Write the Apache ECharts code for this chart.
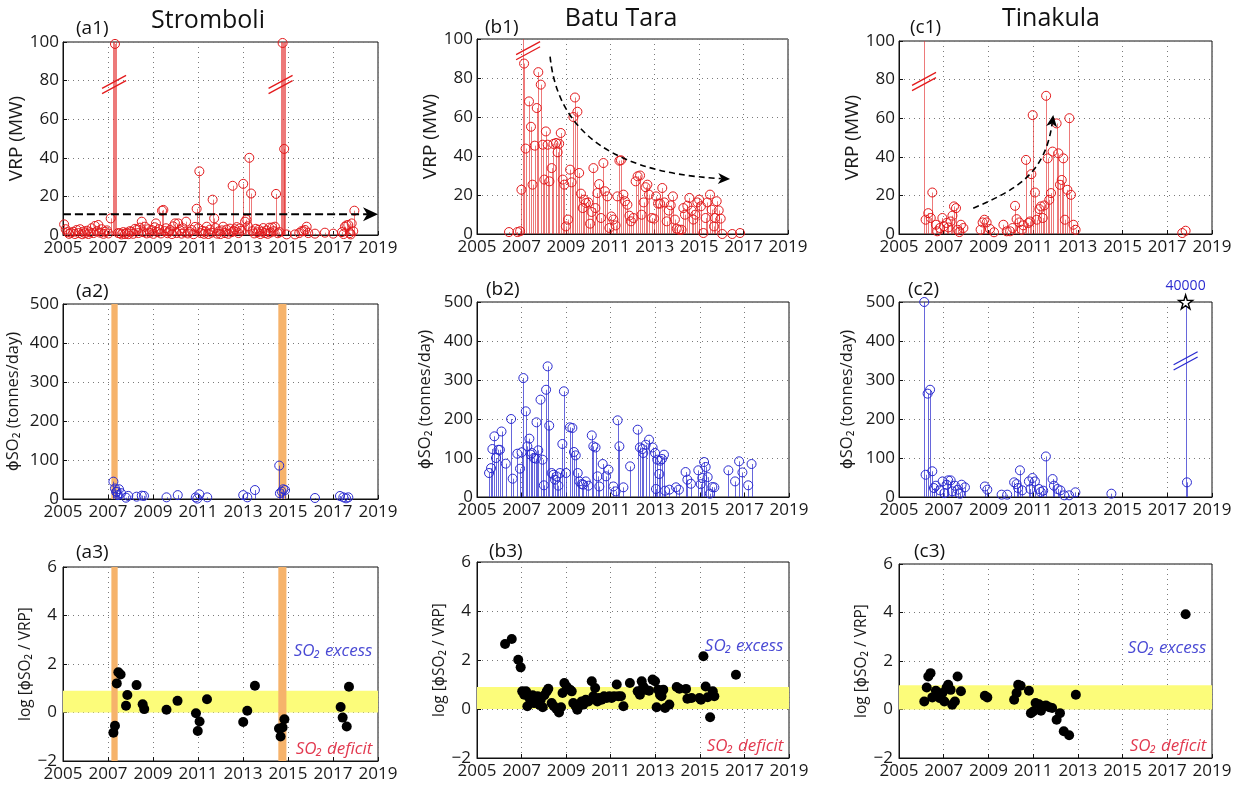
<!DOCTYPE html>
<html><head><meta charset="utf-8">
<script src="https://cdn.jsdelivr.net/npm/echarts@6/dist/echarts.min.js"></script>
<style>html,body{margin:0;padding:0;background:#fff}#c{width:1239px;height:786px}</style>
</head><body><div id="c"></div>
<script>
// ---------- axis ticks ----------
const xTickMin = 2005, xTickMax = 2019, xTickStep = 2;
const vrpTicks = [0, 100, 20];
const so2Ticks = [0, 500, 100];
const ratioTicks = [-2, 6, 2];

// ---------- (a) Stromboli ----------
const vrpStromboli = [[2005.05,5.5],[2005.12,3.0],[2005.2,1.5],[2005.27,0.6],[2005.35,1.2],[2005.46,1.7],[2005.53,0.5],[2005.61,2.6],[2005.7,1.0],[2005.76,3.0],[2005.85,0.4],[2005.92,1.8],[2005.98,0.9],[2006.06,2.2],[2006.13,0.5],[2006.2,1.4],[2006.27,3.5],[2006.35,1.0],[2006.42,4.7],[2006.5,2.0],[2006.57,5.2],[2006.65,1.2],[2006.72,3.0],[2006.8,0.6],[2006.87,1.7],[2006.95,2.4],[2007.02,0.8],[2007.12,8.6],[2007.31,99],[2007.45,1.0],[2007.53,0.9],[2007.6,0.3],[2007.68,1.5],[2007.76,0.5],[2007.83,1.2],[2007.9,0.4],[2007.97,2.0],[2008.05,1.7],[2008.12,0.6],[2008.2,3.2],[2008.27,2.6],[2008.35,1.0],[2008.42,3.8],[2008.5,6.9],[2008.57,1.5],[2008.64,4.3],[2008.72,0.8],[2008.79,3.0],[2008.86,1.2],[2008.94,2.6],[2009.02,0.6],[2009.08,4.0],[2009.13,6.0],[2009.2,1.5],[2009.27,3.0],[2009.35,0.8],[2009.4,12.6],[2009.46,13.0],[2009.52,2.0],[2009.58,3.5],[2009.65,0.9],[2009.71,1.8],[2009.76,2.6],[2009.84,0.5],[2009.9,4.5],[2009.98,6.0],[2010.05,1.0],[2010.12,6.0],[2010.2,2.5],[2010.27,0.7],[2010.33,3.5],[2010.4,1.5],[2010.47,6.9],[2010.55,0.8],[2010.63,1.6],[2010.72,2.6],[2010.8,0.4],[2010.87,4.2],[2010.94,13.6],[2011.01,3.5],[2011.06,33],[2011.12,1.0],[2011.2,2.2],[2011.27,0.6],[2011.33,1.8],[2011.39,4.3],[2011.46,0.5],[2011.53,2.8],[2011.6,1.2],[2011.65,18.3],[2011.72,8.6],[2011.78,3.6],[2011.85,0.7],[2011.92,1.9],[2012.0,0.5],[2012.06,2.4],[2012.12,4.3],[2012.2,1.0],[2012.27,2.8],[2012.35,0.6],[2012.42,3.3],[2012.5,1.5],[2012.54,25.5],[2012.6,2.0],[2012.64,3.0],[2012.72,4.1],[2012.8,1.0],[2012.86,3.4],[2012.93,2.2],[2013.01,26.5],[2013.09,6.9],[2013.15,8.0],[2013.22,4.5],[2013.28,40],[2013.36,21.5],[2013.42,2.0],[2013.5,0.8],[2013.57,3.2],[2013.64,1.4],[2013.7,2.7],[2013.77,0.5],[2013.84,1.8],[2013.9,3.6],[2013.97,1.0],[2014.04,2.3],[2014.1,0.6],[2014.17,3.8],[2014.23,1.3],[2014.3,3.9],[2014.36,2.0],[2014.42,4.3],[2014.47,21.3],[2014.55,0.9],[2014.62,1.5],[2014.76,99.5],[2014.83,44.6],[2014.94,0.3],[2015.31,0.3],[2015.5,1.0],[2015.6,2.0],[2015.68,2.0],[2015.76,2.6],[2015.83,4.3],[2015.9,1.0],[2016.2,0.7],[2016.64,1.2],[2017.01,0.7],[2017.4,1.5],[2017.47,0.5],[2017.53,4.3],[2017.6,5.0],[2017.68,5.2],[2017.75,1.0],[2017.79,0.3],[2017.83,6.0],[2017.9,2.0],[2017.95,12.6]];
const vrpStromboliOffScale = [2007.22, 2007.27, 2007.36, 2014.68, 2014.72, 2014.8, 2014.87];
const so2Stromboli = [[2007.24,44.5],[2007.31,27],[2007.36,18],[2007.39,19],[2007.44,10],[2007.49,25],[2007.58,15],[2007.8,3.4],[2007.9,8],[2008.27,6],[2008.5,8.6],[2008.6,8],[2009.6,4.3],[2010.1,10],[2010.9,4.3],[2010.97,1],[2011.06,12],[2011.41,4.3],[2013.01,10],[2013.19,4.3],[2013.53,23],[2014.61,85.6],[2014.64,14.6],[2014.72,19],[2014.79,25],[2014.87,23],[2016.2,2.6],[2017.31,7.7],[2017.46,4.3],[2017.58,1.7],[2017.68,4.3]];
const ratioStromboli = [[2007.24,-0.83],[2007.31,-0.55],[2007.39,1.2],[2007.46,1.66],[2007.56,1.57],[2007.86,0.72],[2007.8,0.28],[2008.27,1.13],[2008.54,0.34],[2008.61,0.14],[2009.6,0.11],[2010.09,0.48],[2010.91,-0.03],[2010.99,-0.76],[2011.07,-0.37],[2011.4,0.55],[2013.01,-0.39],[2013.19,0.07],[2013.53,1.1],[2014.6,-0.66],[2014.67,-0.99],[2014.76,-0.62],[2014.84,-0.28],[2017.34,0.23],[2017.43,-0.21],[2017.61,-0.58],[2017.71,1.06]];
const stromboliEvents = [[2007.15,2007.43],[2014.57,2014.93]];

// ---------- (b) Batu Tara ----------
const vrpBatuTara = [[2006.44,1],[2006.82,1],[2006.94,1.4],[2007.0,22.7],[2007.12,87.4],[2007.19,43.8],[2007.34,68],[2007.43,55],[2007.5,25.3],[2007.6,45.3],[2007.69,64.6],[2007.76,83],[2007.87,76.6],[2007.96,45.8],[2008.03,27.9],[2008.1,52.6],[2008.18,45.8],[2008.26,27],[2008.36,33.8],[2008.44,46.2],[2008.56,46.7],[2008.63,41.9],[2008.7,46.3],[2008.77,51.8],[2008.86,27.9],[2008.93,25.3],[2009.0,3.9],[2009.1,7.4],[2009.19,33],[2009.26,26.5],[2009.34,60],[2009.41,70],[2009.52,62.7],[2009.6,31.3],[2009.68,20.7],[2009.76,13.3],[2009.82,17.6],[2009.9,15.9],[2010.01,16.2],[2010.09,5.3],[2010.16,11.3],[2010.24,33.8],[2010.33,13.3],[2010.42,21],[2010.5,25.6],[2010.58,8.2],[2010.69,36.4],[2010.76,21.9],[2010.87,19.3],[2010.96,3.1],[2011.05,9],[2011.14,7.4],[2011.24,4.4],[2011.32,19.3],[2011.41,37.6],[2011.48,37.8],[2011.59,20.2],[2011.66,16.8],[2011.77,15],[2011.86,9.4],[2011.93,6.5],[2012.04,8.2],[2012.14,27],[2012.23,29.6],[2012.34,30],[2012.41,9.9],[2012.5,16.2],[2012.59,24],[2012.67,25.3],[2012.74,20.2],[2012.86,8.2],[2012.97,7.9],[2013.06,19.3],[2013.15,15.6],[2013.24,15.6],[2013.34,23.6],[2013.43,16.2],[2013.54,6.5],[2013.63,12],[2013.72,14.7],[2013.82,19.3],[2013.91,7.4],[2013.99,2.7],[2014.1,2.2],[2014.21,2.2],[2014.29,13.3],[2014.36,9.9],[2014.47,14.5],[2014.56,18.5],[2014.66,12],[2014.74,7.4],[2014.83,9.9],[2014.92,16.2],[2015.0,17.6],[2015.08,14.2],[2015.19,0.5],[2015.29,8.2],[2015.37,16.2],[2015.49,20.2],[2015.56,12.5],[2015.67,3.9],[2015.72,8.2],[2015.79,16.8],[2015.88,12.1],[2015.97,7.9],[2016.04,0],[2016.49,0],[2016.84,0.5]];
const vrpBatuTaraOffScale = [2007.08];
const so2BatuTara = [[2005.54,61.5],[2005.63,74],[2005.69,123],[2005.78,155.6],[2005.85,100],[2005.96,121],[2006.03,121],[2006.1,168],[2006.29,85.5],[2006.53,200],[2006.6,47],[2006.81,111],[2006.93,72.6],[2007.0,114.5],[2007.08,305],[2007.19,219.7],[2007.26,130],[2007.35,149.6],[2007.41,108.5],[2007.46,112.8],[2007.55,100],[2007.64,98.3],[2007.67,191.5],[2007.75,119.7],[2007.85,249.6],[2007.94,95.7],[2008.0,30],[2008.1,275],[2008.17,335],[2008.24,183],[2008.35,61.5],[2008.43,57],[2008.5,44.4],[2008.57,53],[2008.65,29],[2008.72,61.5],[2008.83,136],[2008.9,271],[2008.99,61.5],[2009.17,178.6],[2009.28,177],[2009.35,115.4],[2009.43,106.8],[2009.52,61.5],[2009.59,40],[2009.7,33],[2009.77,31.6],[2009.88,40],[2010.0,29],[2010.15,158],[2010.22,130],[2010.32,127],[2010.41,53],[2010.49,27],[2010.64,84.6],[2010.79,53],[2010.9,70],[2011.12,27],[2011.22,14.5],[2011.31,196.6],[2011.39,130],[2011.57,24.8],[2011.87,78.6],[2012.21,172.6],[2012.31,127],[2012.42,123],[2012.46,112.8],[2012.57,134],[2012.72,147],[2012.88,127],[2012.99,112.8],[2013.03,20.5],[2013.09,95.7],[2013.18,59],[2013.22,93],[2013.3,97.4],[2013.39,108.5],[2013.44,16.2],[2013.63,18.8],[2013.93,24.8],[2014.06,18.8],[2014.36,64],[2014.44,44.4],[2014.6,34],[2014.93,68.4],[2015.04,33],[2015.11,48.7],[2015.19,89.7],[2015.26,77],[2015.35,51],[2015.45,8.5],[2015.56,25.6],[2015.65,24.8],[2016.28,68.4],[2016.58,40],[2016.76,91.5],[2016.91,63],[2017.17,30],[2017.32,84.6]];
const ratioBatuTara = [[2006.26,2.65],[2006.56,2.86],[2006.85,2.01],[2006.96,1.7],[2007.03,0.72],[2007.12,0.58],[2007.2,0.72],[2007.26,0.11],[2007.35,0.45],[2007.42,0.31],[2007.5,0.56],[2007.56,0.24],[2007.65,0.38],[2007.72,0.52],[2007.8,0.18],[2007.86,0.38],[2007.95,0.07],[2008.02,0.56],[2008.13,0.72],[2008.2,0.83],[2008.35,0.24],[2008.45,0.11],[2008.57,0],[2008.68,-0.14],[2008.77,0.07],[2008.84,0.65],[2008.92,1.06],[2009.02,0.92],[2009.17,0.79],[2009.25,0.72],[2009.32,0.24],[2009.43,0.11],[2009.5,-0.03],[2009.59,0.18],[2009.7,0.31],[2009.77,0.18],[2009.88,0.38],[2010.0,0.31],[2010.15,1.13],[2010.22,0.52],[2010.3,0.86],[2010.4,0.31],[2010.47,0.45],[2010.59,0.38],[2010.7,0.52],[2010.82,0.45],[2010.94,0.52],[2011.04,0.45],[2011.15,0.52],[2011.27,1.0],[2011.34,0.52],[2011.46,0.52],[2011.57,0.11],[2011.86,1.06],[2012.21,0.72],[2012.31,0.58],[2012.39,1.13],[2012.46,0.92],[2012.57,0.79],[2012.72,0.75],[2012.88,1.2],[2012.99,1.13],[2013.06,0.07],[2013.13,0.79],[2013.21,0.58],[2013.28,0.52],[2013.36,0.79],[2013.44,0.04],[2013.63,0.18],[2013.96,0.9],[2014.08,0.83],[2014.38,0.82],[2014.44,0.42],[2014.63,0.45],[2014.98,0.45],[2015.05,0.38],[2015.16,2.15],[2015.26,0.92],[2015.35,0.48],[2015.46,-0.34],[2015.58,0.72],[2015.65,0.52],[2016.62,1.4]];

// ---------- (c) Tinakula ----------
const vrpTinakula = [[2006.19,7.4],[2006.31,10.8],[2006.42,8.3],[2006.49,21.5],[2006.65,4.8],[2006.71,1.4],[2006.83,3.1],[2006.94,8.3],[2007.01,4],[2007.13,5.7],[2007.21,3.4],[2007.31,6.5],[2007.39,9.5],[2007.46,14.3],[2007.55,13.4],[2007.62,2.2],[2007.7,1],[2007.77,4.8],[2007.88,3.1],[2008.65,2.2],[2008.74,6],[2008.82,7.4],[2008.92,6],[2009.07,2.6],[2009.25,0.9],[2009.67,4.8],[2009.82,1.4],[2009.97,1.4],[2010.08,3.1],[2010.19,14.6],[2010.26,7.7],[2010.38,6],[2010.49,2.2],[2010.56,4.5],[2010.68,38.4],[2010.79,5.7],[2010.86,6.5],[2010.92,31],[2010.98,61.6],[2011.08,21.5],[2011.16,7.4],[2011.28,12.9],[2011.35,14.3],[2011.43,8.3],[2011.5,14.8],[2011.58,71.6],[2011.65,39.2],[2011.72,17.7],[2011.8,21.2],[2011.87,42.7],[2012.05,57.3],[2012.13,41.8],[2012.2,25.5],[2012.28,28],[2012.35,39.2],[2012.42,7.4],[2012.53,22.9],[2012.62,60],[2012.69,20.3],[2012.8,4.8],[2012.9,2.2],[2017.67,0.5],[2017.82,1.7]];
const vrpTinakulaOffScale = [2006.12];
const so2Tinakula = [[2006.13,500],[2006.19,57],[2006.28,265],[2006.39,275],[2006.49,66],[2006.56,23],[2006.65,29],[2006.83,17],[2006.95,40],[2007.03,10],[2007.13,31.6],[2007.2,42.7],[2007.31,42.7],[2007.38,14.5],[2007.5,29],[2007.62,18.8],[2007.73,8.5],[2007.8,31.6],[2007.95,24.8],[2008.84,27],[2008.95,18.8],[2009.59,6],[2009.84,6],[2010.15,37.6],[2010.26,33],[2010.33,23],[2010.41,68.4],[2010.51,17],[2010.81,40],[2010.88,20.5],[2010.97,48.7],[2011.08,40],[2011.26,20.5],[2011.34,12.8],[2011.45,16.2],[2011.57,104],[2011.87,46],[2011.93,29],[2012.09,20.5],[2012.22,17],[2012.39,4.3],[2012.61,4.3],[2012.89,12],[2014.5,8.5],[2017.88,37.6]];
const so2TinakulaOffScale = [2017.82];
const so2TinakulaPeak = [[2017.82, 500]];
const so2TinakulaPeakLabel = '40000';
const ratioTinakula = [[2006.13,0.33],[2006.24,0.91],[2006.31,1.36],[2006.41,1.5],[2006.49,0.5],[2006.65,0.77],[2006.83,0.47],[2006.94,0.68],[2007.03,0.33],[2007.13,0.91],[2007.2,1.02],[2007.31,0.81],[2007.38,0.2],[2007.5,0.33],[2007.62,1.36],[2007.77,0.75],[2008.84,0.57],[2008.95,0.5],[2010.15,0.4],[2010.26,0.68],[2010.33,1.02],[2010.44,0.98],[2010.81,0.77],[2010.9,-0.15],[2011.0,-0.08],[2011.11,0.27],[2011.26,0.22],[2011.35,-0.05],[2011.45,0.13],[2011.57,0.17],[2011.72,0.09],[2011.85,0.06],[2012.05,-0.42],[2012.2,-0.15],[2012.37,-0.9],[2012.61,-1.06],[2012.91,0.61],[2017.82,3.93]];

// reference ranges (yellow band)
const bandStromboli = [0, 0.9];
const bandBatuTara = [0, 0.9];
const bandTinakula = [0, 1.0];

// trend arrows [x0,y0, cx1,cy1, cx2,cy2, x3,y3]
const trendStromboli = [2005.0,10.7, 2005.0,10.7, 2019.0,10.7, 2019.0,10.7];
const trendBatuTara = [2008.29,91, 2008.56,61, 2010.18,31.8, 2016.39,28.2];
const trendTinakula = [2008.32,13.3, 2010.19,22.8, 2011.53,30.6, 2011.9,61.7];

// axis break marks
const breaksA1 = [[2007.27,78],[2014.67,78]];
const breaksB1 = [[2007.3,94]];
const breaksC1 = [[2006.12,79]];
const breaksC2 = [[2017.82,349]];

// ---------- styling ----------
const FONT = '"Open Sans", "DejaVu Sans", sans-serif';
const RED = '#e31a1c', RED_STEM = 'rgba(226,40,40,0.62)';
const BLUE = '#2b2bd0', BLUE_STEM = 'rgba(45,45,205,0.72)';
const ORANGE = '#f6b36b', YELLOW = '#fcfc7a';
const EXCESS = '#4a4ad4', DEFICIT = '#e23a50';

const panels = [
  {box:[63,42,315,193], t:vrpTicks, name:'VRP (MW)', nfs:19, gap:34, kind:'stem', col:RED, stem:RED_STEM, data:vrpStromboli, off:vrpStromboliOffScale, breaks:breaksA1, trend:trendStromboli, tstyle:{lw:2, dash:[8,4], len:15, w:7}},
  {box:[477,39,311,195], t:vrpTicks, name:'VRP (MW)', nfs:19, gap:35, kind:'stem', col:RED, stem:RED_STEM, data:vrpBatuTara, off:vrpBatuTaraOffScale, breaks:breaksB1, trend:trendBatuTara, tstyle:{lw:1.6, dash:[6,4], len:12, w:5.5}},
  {box:[899,41,313,193], t:vrpTicks, name:'VRP (MW)', nfs:19, gap:37, kind:'stem', col:RED, stem:RED_STEM, data:vrpTinakula, off:vrpTinakulaOffScale, breaks:breaksC1, trend:trendTinakula, tstyle:{lw:1.6, dash:[6,4], len:12, w:5.5}},
  {box:[63,304,315,195], t:so2Ticks, name:'ϕSO₂ (tonnes/day)', nfs:16.5, gap:41, kind:'stem', col:BLUE, stem:BLUE_STEM, data:so2Stromboli, off:[], vbands:stromboliEvents},
  {box:[477,302,312,195], t:so2Ticks, name:'ϕSO₂ (tonnes/day)', nfs:16.5, gap:43, kind:'stem', col:BLUE, stem:BLUE_STEM, data:so2BatuTara, off:[]},
  {box:[899,302,313,195], t:so2Ticks, name:'ϕSO₂ (tonnes/day)', nfs:16.5, gap:43, kind:'stem', col:BLUE, stem:BLUE_STEM, data:so2Tinakula, off:so2TinakulaOffScale, breaks:breaksC2, peak:so2TinakulaPeak},
  {box:[63,567,315,194], t:ratioTicks, name:'log [ϕSO₂ / VRP]', nfs:15.5, gap:19, kind:'dot', data:ratioStromboli, vbands:stromboliEvents, hband:bandStromboli},
  {box:[477,562,312,196], t:ratioTicks, name:'log [ϕSO₂ / VRP]', nfs:15.5, gap:27, kind:'dot', data:ratioBatuTara, hband:bandBatuTara},
  {box:[899,564,313,194], t:ratioTicks, name:'log [ϕSO₂ / VRP]', nfs:15.5, gap:24, kind:'dot', data:ratioTinakula, hband:bandTinakula}
];

const fmtNum = v => (v < 0 ? '\u2212' + Math.abs(v) : String(v));
const grids = [], xAxes = [], yAxes = [], series = [];

panels.forEach((p, gi) => {
  grids.push({left:p.box[0], top:p.box[1], width:p.box[2], height:p.box[3], show:true, borderColor:'#111', borderWidth:1, backgroundColor:'transparent', containLabel:false, outerBoundsMode:'none'});
  const common = {
    gridIndex:gi, type:'value',
    axisLine:{show:true, onZero:false, lineStyle:{color:'#111', width:1}},
    axisTick:{show:true, inside:true, length:4, lineStyle:{color:'#111'}},
    splitLine:{show:true, lineStyle:{color:'#7a7a7a', width:1, type:[1,4]}},
    axisLabel:{color:'#1a1a1a', fontSize:17, fontFamily:FONT, formatter:fmtNum, showMinLabel:true, showMaxLabel:true}
  };
  xAxes.push(Object.assign({}, common, {min:xTickMin, max:xTickMax, interval:xTickStep, axisLabel:Object.assign({}, common.axisLabel, {margin:5})}));
  yAxes.push(Object.assign({}, common, {min:p.t[0], max:p.t[1], interval:p.t[2], name:p.name, nameLocation:'middle', nameGap:p.gap,
    nameTextStyle:{fontSize:p.nfs, fontFamily:FONT, color:'#1a1a1a'}, axisLabel:Object.assign({}, common.axisLabel, {margin:p.kind==='dot'?6:4})}));
  const yLo = p.t[0], yHi = p.t[1];

  // bands
  const bandRects = [];
  if (p.hband) bandRects.push({r:[xTickMin, xTickMax, p.hband[0], p.hband[1]], c:YELLOW});
  if (p.vbands) p.vbands.forEach(b => bandRects.push({r:[b[0], b[1], yLo, yHi], c:ORANGE}));
  if (bandRects.length) {
    series.push({type:'custom', xAxisIndex:gi, yAxisIndex:gi, z:1, silent:true, clip:true,
      data:bandRects.map(b => b.r), encode:{x:[0,1], y:[2,3]},
      renderItem:(params, api) => {
        const a = api.coord([api.value(0), api.value(3)]);
        const b = api.coord([api.value(1), api.value(2)]);
        return {type:'rect', shape:{x:a[0], y:a[1], width:b[0]-a[0], height:b[1]-a[1]}, style:{fill:bandRects[params.dataIndex].c}};
      }});
  }

  if (p.kind === 'stem') {
    const pts = p.data.map(d => [d[0], d[1]]).concat(p.off.map(x => [x, yHi]));
    const stemColor = p.stem;
    series.push({type:'custom', xAxisIndex:gi, yAxisIndex:gi, z:2, silent:true, clip:true, data:pts, encode:{x:0, y:1},
      renderItem:(params, api) => {
        const x = api.value(0), v = api.value(1);
        const a = api.coord([x, 0]), b = api.coord([x, v]);
        const px = Math.round(a[0]) + 0.5;
        return {type:'line', shape:{x1:px, y1:a[1], x2:px, y2:b[1]}, style:{stroke:stemColor, lineWidth:1, fill:'none'}};
      }});
    series.push({type:'scatter', xAxisIndex:gi, yAxisIndex:gi, z:3, silent:true, data:p.data, symbol:'circle', symbolSize:9,
      itemStyle:{color:'rgba(255,255,255,0)', borderColor:p.col, borderWidth:1, opacity:1}});
  } else {
    series.push({type:'scatter', xAxisIndex:gi, yAxisIndex:gi, z:3, silent:true, data:p.data, symbol:'circle', symbolSize:10,
      itemStyle:{color:'#000', opacity:1}});
    const labels = [{pos:[2018.75, 2.55], text:'SO\u2082 excess', c:EXCESS}, {pos:[2018.75, -1.5], text:'SO\u2082 deficit', c:DEFICIT}];
    series.push({type:'custom', xAxisIndex:gi, yAxisIndex:gi, z:6, silent:true, clip:false, data:labels.map(l => l.pos), encode:{x:0, y:1},
      renderItem:(params, api) => {
        const q = api.coord([api.value(0), api.value(1)]);
        const l = labels[params.dataIndex];
        return {type:'text', x:q[0], y:q[1], style:{text:l.text, fill:l.c, font:'italic 17px ' + FONT, align:'right', verticalAlign:'middle'}};
      }});
  }

  if (p.breaks) {
    const bc = p.col;
    series.push({type:'custom', xAxisIndex:gi, yAxisIndex:gi, z:5, silent:true, clip:false, data:p.breaks, encode:{x:0, y:1},
      renderItem:(params, api) => {
        const q = api.coord([api.value(0), api.value(1)]);
        const dx = 12, dy = 6.5, g = 2.6;
        const seg = s => ({type:'line', shape:{x1:q[0]-dx, y1:q[1]+dy+s, x2:q[0]+dx, y2:q[1]-dy+s}, style:{stroke:bc, lineWidth:1.3, fill:'none'}});
        return {type:'group', children:[seg(-g), seg(g)]};
      }});
  }

  if (p.peak) {
    series.push({type:'scatter', xAxisIndex:gi, yAxisIndex:gi, z:6, silent:true, data:p.peak,
      symbol:'path://M12,0 L14.8,8.6 L24,8.6 L16.6,14 L19.4,22.6 L12,17.3 L4.6,22.6 L7.4,14 L0,8.6 L9.2,8.6 Z', symbolSize:14,
      itemStyle:{color:'#fff', borderColor:'#000', borderWidth:1.4, opacity:1},
      label:{show:true, position:'top', distance:1, formatter:so2TinakulaPeakLabel, color:BLUE, fontSize:14, fontFamily:FONT}});
  }

  if (p.trend) {
    const ts = p.tstyle;
    series.push({type:'custom', xAxisIndex:gi, yAxisIndex:gi, z:7, silent:true, clip:false, data:[p.trend], encode:{x:[0,2,4,6], y:[1,3,5,7]},
      renderItem:(params, api) => {
        const P = [0,1,2,3].map(i => api.coord([api.value(2*i), api.value(2*i+1)]));
        let dx = P[3][0]-P[2][0], dy = P[3][1]-P[2][1];
        if (Math.hypot(dx, dy) < 1e-6) { dx = P[3][0]-P[0][0]; dy = P[3][1]-P[0][1]; }
        const L = Math.hypot(dx, dy); dx /= L; dy /= L;
        const nx = -dy, ny = dx;
        const bx = P[3][0]-dx*ts.len, by = P[3][1]-dy*ts.len;
        const mx = P[3][0]-dx*ts.len*0.72, my = P[3][1]-dy*ts.len*0.72;
        const straight = P[1][0]===P[0][0] && P[1][1]===P[0][1];
        const c1 = straight ? P[0] : P[1], c2 = straight ? [mx,my] : P[2];
        return {type:'group', children:[
          {type:'bezierCurve', shape:{x1:P[0][0], y1:P[0][1], cpx1:c1[0], cpy1:c1[1], cpx2:c2[0], cpy2:c2[1], x2:mx, y2:my},
            style:{stroke:'#000', lineWidth:ts.lw, lineDash:ts.dash, fill:'none'}},
          {type:'polygon', shape:{points:[[P[3][0],P[3][1]], [bx+nx*ts.w, by+ny*ts.w], [mx,my], [bx-nx*ts.w, by-ny*ts.w]]}, style:{fill:'#000', stroke:'none'}}
        ]};
      }});
  }
});

// titles and panel labels
const titles = [['Stromboli', 208, 21], ['Batu Tara', 621, 19], ['Tinakula', 1051, 19]];
const tags = [['(a1)', 76, 29], ['(b1)', 485, 28], ['(c1)', 910, 28], ['(a2)', 76, 292], ['(b2)', 486, 290], ['(c2)', 908, 290], ['(a3)', 76, 553], ['(b3)', 489, 552], ['(c3)', 914, 552]];
const graphic = titles.map(t => ({type:'text', x:t[1], y:t[2], silent:true, style:{text:t[0], fill:'#111', font:'25px ' + FONT, align:'center', verticalAlign:'middle'}}))
  .concat(tags.map(t => ({type:'text', x:t[1], y:t[2], silent:true, style:{text:t[0], fill:'#111', font:'19px ' + FONT, align:'left', verticalAlign:'middle'}})));

const chart = echarts.init(document.getElementById('c'), null, {renderer:'canvas'});
chart.setOption({animation:false, backgroundColor:'#fff', textStyle:{fontFamily:FONT}, grid:grids, xAxis:xAxes, yAxis:yAxes, series:series, graphic:graphic});
</script></body></html>
